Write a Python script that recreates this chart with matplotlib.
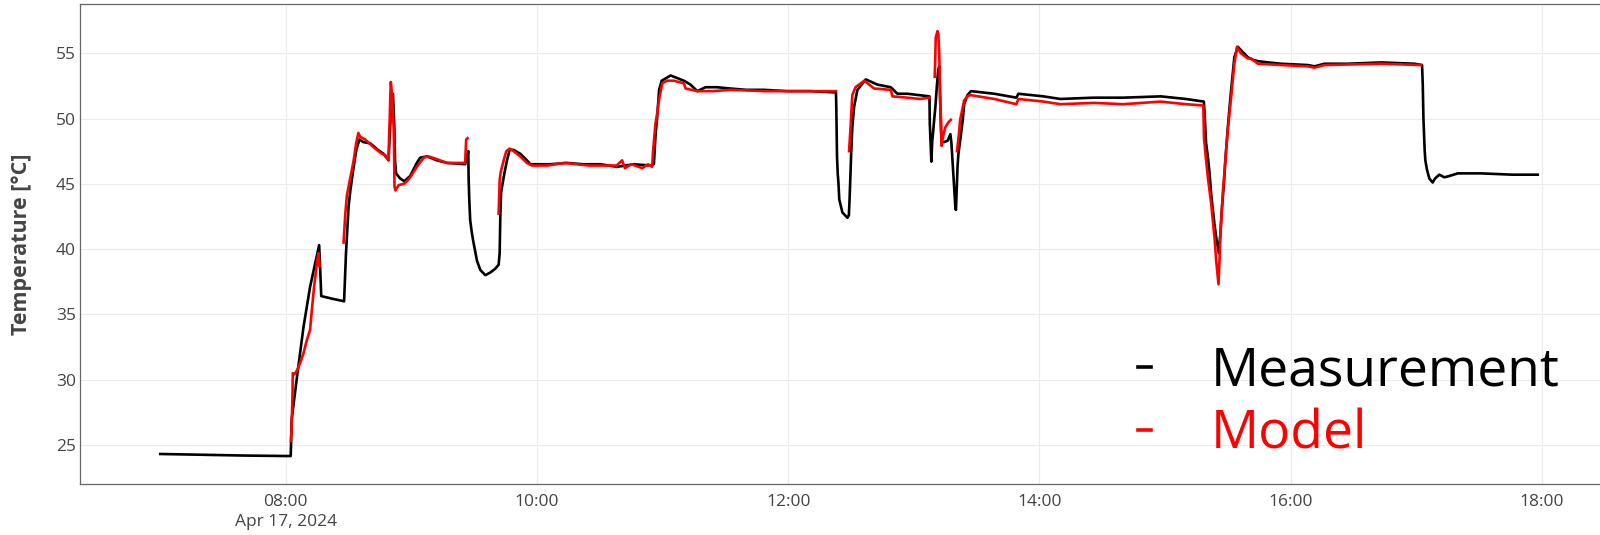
import numpy as np
import pandas as pd
import matplotlib
matplotlib.use("Agg")
import matplotlib.pyplot as plt

plt.rcParams["font.family"] = ["Open Sans", "DejaVu Sans"]

DAY = "2024-04-17 "
nan = np.nan

meas_time = [
    "07:00:00", "07:20:00", "07:40:00", "08:02:20",
    "08:02:50", "08:05:20", "08:08:25", "08:11:35", "08:15:55",
    "08:16:25", "08:16:55", "08:22:00", "08:27:50",
    "08:28:45", "08:30:00", "08:30:50", "08:32:25", "08:33:40", "08:35:10",
    "08:37:00", "08:40:20", "08:44:00", "08:46:40", "08:49:05",
    "08:49:35", "08:50:10", "08:50:40", "08:51:10", "08:51:30", "08:51:50", "08:52:10", "08:52:40",
    "08:54:40", "08:56:35", "08:59:25", "09:02:35", "09:04:10", "09:07:25", "09:12:10", "09:17:00", "09:25:40",
    "09:26:30", "09:27:10", "09:27:20", "09:27:40", "09:28:05", "09:28:55", "09:29:40", "09:31:20", "09:32:55",
    "09:35:20", "09:37:40", "09:40:05", "09:41:40",
    "09:42:10", "09:42:20", "09:42:30", "09:42:50", "09:43:20", "09:44:25", "09:45:40", "09:46:55", "09:48:50",
    "09:52:00", "09:55:10", "09:56:50",
    "10:06:25", "10:14:20", "10:22:00", "10:30:20", "10:38:10", "10:46:10", "10:54:10", "10:55:50",
    "10:56:40", "10:57:25", "10:58:20", "10:59:35", "11:03:50", "11:07:00", "11:10:10", "11:13:20", "11:16:35",
    "11:20:30", "11:26:05", "11:32:30", "11:40:00", "11:48:30", "11:59:35", "12:10:50", "12:22:50",
    "12:23:00", "12:23:10", "12:23:20", "12:23:40", "12:24:00", "12:24:25", "12:25:55", "12:28:20", "12:29:00",
    "12:29:20", "12:29:50", "12:30:10", "12:30:40", "12:31:30", "12:33:05", "12:37:05", "12:42:40", "12:49:00",
    "12:52:10", "12:57:00", "13:07:30",
    "13:07:40", "13:08:15", "13:08:25", "13:08:50", "13:09:20", "13:09:45", "13:10:20", "13:11:00", "13:11:40",
    "13:12:10", "13:12:30", "13:12:45", "13:13:00", "13:13:20", "13:14:35", "13:16:10", "13:17:30", "13:18:00",
    "13:18:30", "13:18:55", "13:19:25", "13:19:55", "13:20:10", "13:20:35", "13:20:55", "13:21:20", "13:22:10",
    "13:23:25", "13:24:05", "13:25:40", "13:27:20",
    "13:38:30", "13:49:00", "13:50:00", "14:02:00", "14:10:00", "14:26:00", "14:40:00", "14:58:00", "15:10:00",
    "15:18:35",
    "15:18:55", "15:19:15", "15:19:40", "15:20:30", "15:21:20", "15:22:05", "15:22:55", "15:23:40", "15:24:30",
    "15:25:45", "15:26:35", "15:27:10", "15:28:10", "15:29:00", "15:30:05", "15:31:20", "15:32:25", "15:33:10",
    "15:34:50", "15:37:10", "15:39:35", "15:42:00", "15:44:25", "15:49:10", "15:55:30", "16:08:15", "16:11:30",
    "16:16:10", "16:27:20", "16:43:20", "16:59:15", "17:02:50",
    "17:03:10", "17:03:20", "17:03:30", "17:03:50", "17:04:05", "17:04:25", "17:05:10", "17:06:20", "17:07:55",
    "17:09:00", "17:11:05", "17:13:30", "17:15:55", "17:19:55", "17:31:00", "17:46:00", "17:58:05",
]
meas_temp = [
    24.30, 24.24, 24.18, 24.14,
    27.0, 30.2, 34.0, 37.1, 40.3,
    38.5, 36.4, 36.2, 36.0,
    39.7, 43.3, 44.5, 46.3, 47.6, 48.4,
    48.2, 48.1, 47.6, 47.3, 46.8,
    48.6, 50.4, 51.7, 51.9, 50.7, 49.4, 46.8, 45.8,
    45.4, 45.2, 45.6, 46.6, 47.0, 47.1, 46.8, 46.6, 46.5,
    47.1, 47.5, 45.4, 43.7, 42.2, 41.2, 40.5, 39.1, 38.4,
    38.0, 38.2, 38.5, 38.8,
    39.7, 41.2, 42.7, 44.3, 44.8, 45.8, 46.8, 47.6, 47.6,
    47.3, 46.8, 46.5,
    46.5, 46.6, 46.5, 46.5, 46.3, 46.5, 46.4, 46.5,
    48.8, 50.1, 52.2, 52.9, 53.3, 53.1, 52.9, 52.6, 52.1,
    52.4, 52.4, 52.3, 52.2, 52.2, 52.1, 52.1, 52.0,
    50.8, 49.1, 47.1, 45.8, 45.1, 43.8, 42.8, 42.4, 42.6,
    43.8, 46.1, 47.6, 49.4, 50.9, 52.2, 53.0, 52.6, 52.4,
    51.9, 51.9, 51.7,
    49.6, 47.3, 46.7, 48.3, 49.1, 49.9, 50.9, 52.4, 53.7,
    54.0, 52.4, 50.9, 49.1, 48.2, 48.2, 48.3, 48.8, 48.1,
    46.8, 45.8, 44.3, 43.1, 43.0, 44.8, 46.3, 47.3, 48.3,
    49.9, 51.1, 51.8, 52.1,
    51.9, 51.6, 51.9, 51.7, 51.5, 51.6, 51.6, 51.7, 51.5,
    51.3,
    50.5, 49.4, 48.1, 47.1, 45.8, 44.2, 43.0, 41.9, 40.9,
    39.7, 41.4, 43.0, 45.0, 47.1, 49.4, 51.7, 53.5, 54.7,
    55.5, 55.1, 54.7, 54.5, 54.4, 54.3, 54.2, 54.1, 54.0,
    54.2, 54.2, 54.3, 54.2, 54.1,
    52.7, 51.3, 50.0, 48.6, 47.6, 46.8, 46.1, 45.4, 45.1,
    45.4, 45.7, 45.5, 45.6, 45.8, 45.8, 45.7, 45.7,
]

# model output, nan marks where the model has no values
model_time = [
    "08:02:25", "08:02:45", "08:03:10", "08:03:20", "08:04:05", "08:05:20", "08:06:55", "08:08:25", "08:10:00",
    "08:11:35", "08:12:25", "08:13:30", "08:14:50", "08:15:35", "08:16:05",
    "08:22:00",
    "08:27:35", "08:28:25", "08:29:10", "08:30:50", "08:32:25", "08:33:35", "08:34:40", "08:35:30", "08:37:55",
    "08:41:55", "08:45:55", "08:47:30", "08:49:05",
    "08:49:20", "08:49:40", "08:49:55", "08:50:10", "08:50:25", "08:50:50", "08:51:30", "08:51:40", "08:51:55",
    "08:52:20", "08:53:55", "08:56:20", "08:57:50", "08:59:25", "09:02:35", "09:05:50", "09:08:10", "09:12:00",
    "09:17:00", "09:25:40", "09:26:10", "09:26:50",
    "09:34:00",
    "09:41:40", "09:42:10", "09:42:40", "09:44:05", "09:45:20", "09:46:55", "09:48:50", "09:52:00", "09:55:10",
    "09:57:35", "10:05:00", "10:13:00", "10:25:00", "10:38:00", "10:40:40", "10:42:00", "10:45:00", "10:50:20",
    "10:53:00", "10:55:00", "10:55:30", "10:56:35", "10:57:25", "10:58:15", "10:59:50", "11:02:10", "11:05:25",
    "11:10:10", "11:11:00", "11:16:35", "11:24:00", "11:32:30", "11:48:30", "12:10:50", "12:22:50",
    "12:26:00",
    "12:29:05", "12:29:50", "12:30:10", "12:30:40", "12:32:10", "12:36:20", "12:41:05", "12:49:00", "12:49:50",
    "12:57:00", "13:03:00", "13:07:25",
    "13:08:40",
    "13:10:00", "13:10:15", "13:10:30", "13:11:20", "13:11:45", "13:12:10", "13:12:20", "13:12:35", "13:13:00",
    "13:13:20", "13:13:50", "13:15:00", "13:16:30", "13:17:40",
    "13:19:00",
    "13:20:40", "13:21:30", "13:22:10", "13:23:25", "13:24:05", "13:25:40", "13:27:00", "13:38:30", "13:49:00",
    "13:50:00", "14:02:00", "14:10:00", "14:26:00", "14:40:00", "14:58:00", "15:10:00", "15:18:20",
    "15:18:40", "15:19:40", "15:20:30", "15:22:05", "15:23:40", "15:24:30", "15:25:35", "15:26:05", "15:26:35",
    "15:27:45", "15:29:00", "15:30:05", "15:31:40", "15:33:10", "15:34:25", "15:36:20", "15:39:35", "15:41:10",
    "15:44:25", "15:55:30", "16:08:15", "16:11:30", "16:16:10", "16:43:20", "17:02:25",
]
model_temp = [
    25.3, 26.3, 28.7, 30.5, 30.4, 30.7, 31.3, 32.0, 33.0,
    33.8, 35.3, 37.1, 38.9, 39.7, 38.7,
    nan,
    40.5, 42.7, 44.1, 45.5, 46.8, 48.1, 48.9, 48.6, 48.4,
    47.8, 47.3, 47.2, 46.8,
    48.6, 50.1, 51.7, 52.8, 52.4, 51.4, 49.4, 48.1, 44.8,
    44.5, 44.9, 45.0, 45.2, 45.5, 46.3, 47.0, 47.1, 46.9,
    46.6, 46.6, 48.4, 48.5,
    nan,
    42.7, 45.3, 45.9, 46.8, 47.5, 47.7, 47.5, 47.1, 46.6,
    46.4, 46.4, 46.6, 46.4, 46.4, 46.8, 46.2, 46.5, 46.2,
    46.5, 46.3, 47.6, 49.6, 50.4, 51.4, 52.7, 52.9, 52.9,
    52.7, 52.3, 52.1, 52.1, 52.2, 52.1, 52.1, 52.1,
    nan,
    47.5, 49.4, 50.5, 51.8, 52.4, 52.9, 52.3, 52.2, 51.7,
    51.6, 51.5, 51.6,
    nan,
    53.2, 54.5, 56.2, 56.7, 56.5, 55.0, 53.8, 51.3, 50.0,
    47.9, 48.5, 49.3, 49.7, 49.9,
    nan,
    47.5, 48.7, 49.9, 50.9, 51.4, 51.7, 51.8, 51.5, 51.1,
    51.5, 51.3, 51.1, 51.2, 51.1, 51.3, 51.1, 51.0,
    48.5, 46.8, 45.5, 43.5, 40.9, 39.1, 37.3, 39.2, 41.4,
    44.5, 47.1, 49.2, 51.7, 54.2, 55.5, 55.0, 54.6, 54.6,
    54.2, 54.1, 54.0, 53.9, 54.1, 54.2, 54.1,
]

tick_times = ["08:00", "10:00", "12:00", "14:00", "16:00", "18:00"]
tick_labels = ["08:00\nApr 17, 2024", "10:00", "12:00", "14:00", "16:00", "18:00"]
y_ticks = [25, 30, 35, 40, 45, 50, 55]

assert len(meas_time) == len(meas_temp)
assert len(model_time) == len(model_temp)

def to_dt(times):
    return pd.to_datetime([DAY + t for t in times])

fig = plt.figure(figsize=(16, 5.35), dpi=100)
ax = fig.add_axes([80 / 1600, 51 / 535, 1521 / 1600, 480.3 / 535])

ax.plot(to_dt(meas_time), meas_temp, color="black", lw=1.9, label="Measurement")
ax.plot(to_dt(model_time), model_temp, color="#ff0000", lw=1.9, label="Model")

ax.set_xlim(pd.Timestamp(DAY + "06:21:40"), pd.Timestamp(DAY + "18:28:20"))
ax.set_ylim(22.0, 58.8)
ax.set_xticks(to_dt(tick_times))
ax.set_xticklabels(tick_labels, linespacing=1.35)
ax.set_yticks(y_ticks)

ax.grid(True, color="#ebebeb", lw=0.8)
ax.set_axisbelow(True)
ax.tick_params(length=0, labelsize=12.5, labelcolor="#444444")
ax.tick_params(axis="x", pad=7)
ax.tick_params(axis="y", pad=3)
for side in ["left", "top", "bottom"]:
    ax.spines[side].set_color("#666666")
    ax.spines[side].set_linewidth(0.9)
ax.spines["right"].set_visible(False)

ax.set_ylabel("Temperature [°C]", fontsize=15.5, fontweight="bold", color="#444444", labelpad=17)

leg = ax.legend(loc="lower left", bbox_to_anchor=(0.6954, 0.047), frameon=False, fontsize=38.4,
                handlelength=0.25, handletextpad=1.12, borderpad=0, borderaxespad=0,
                labelspacing=0.17, labelcolor="linecolor")
for h in leg.get_lines():
    h.set_linewidth(2.6)

fig.savefig("out.png", dpi=100)
